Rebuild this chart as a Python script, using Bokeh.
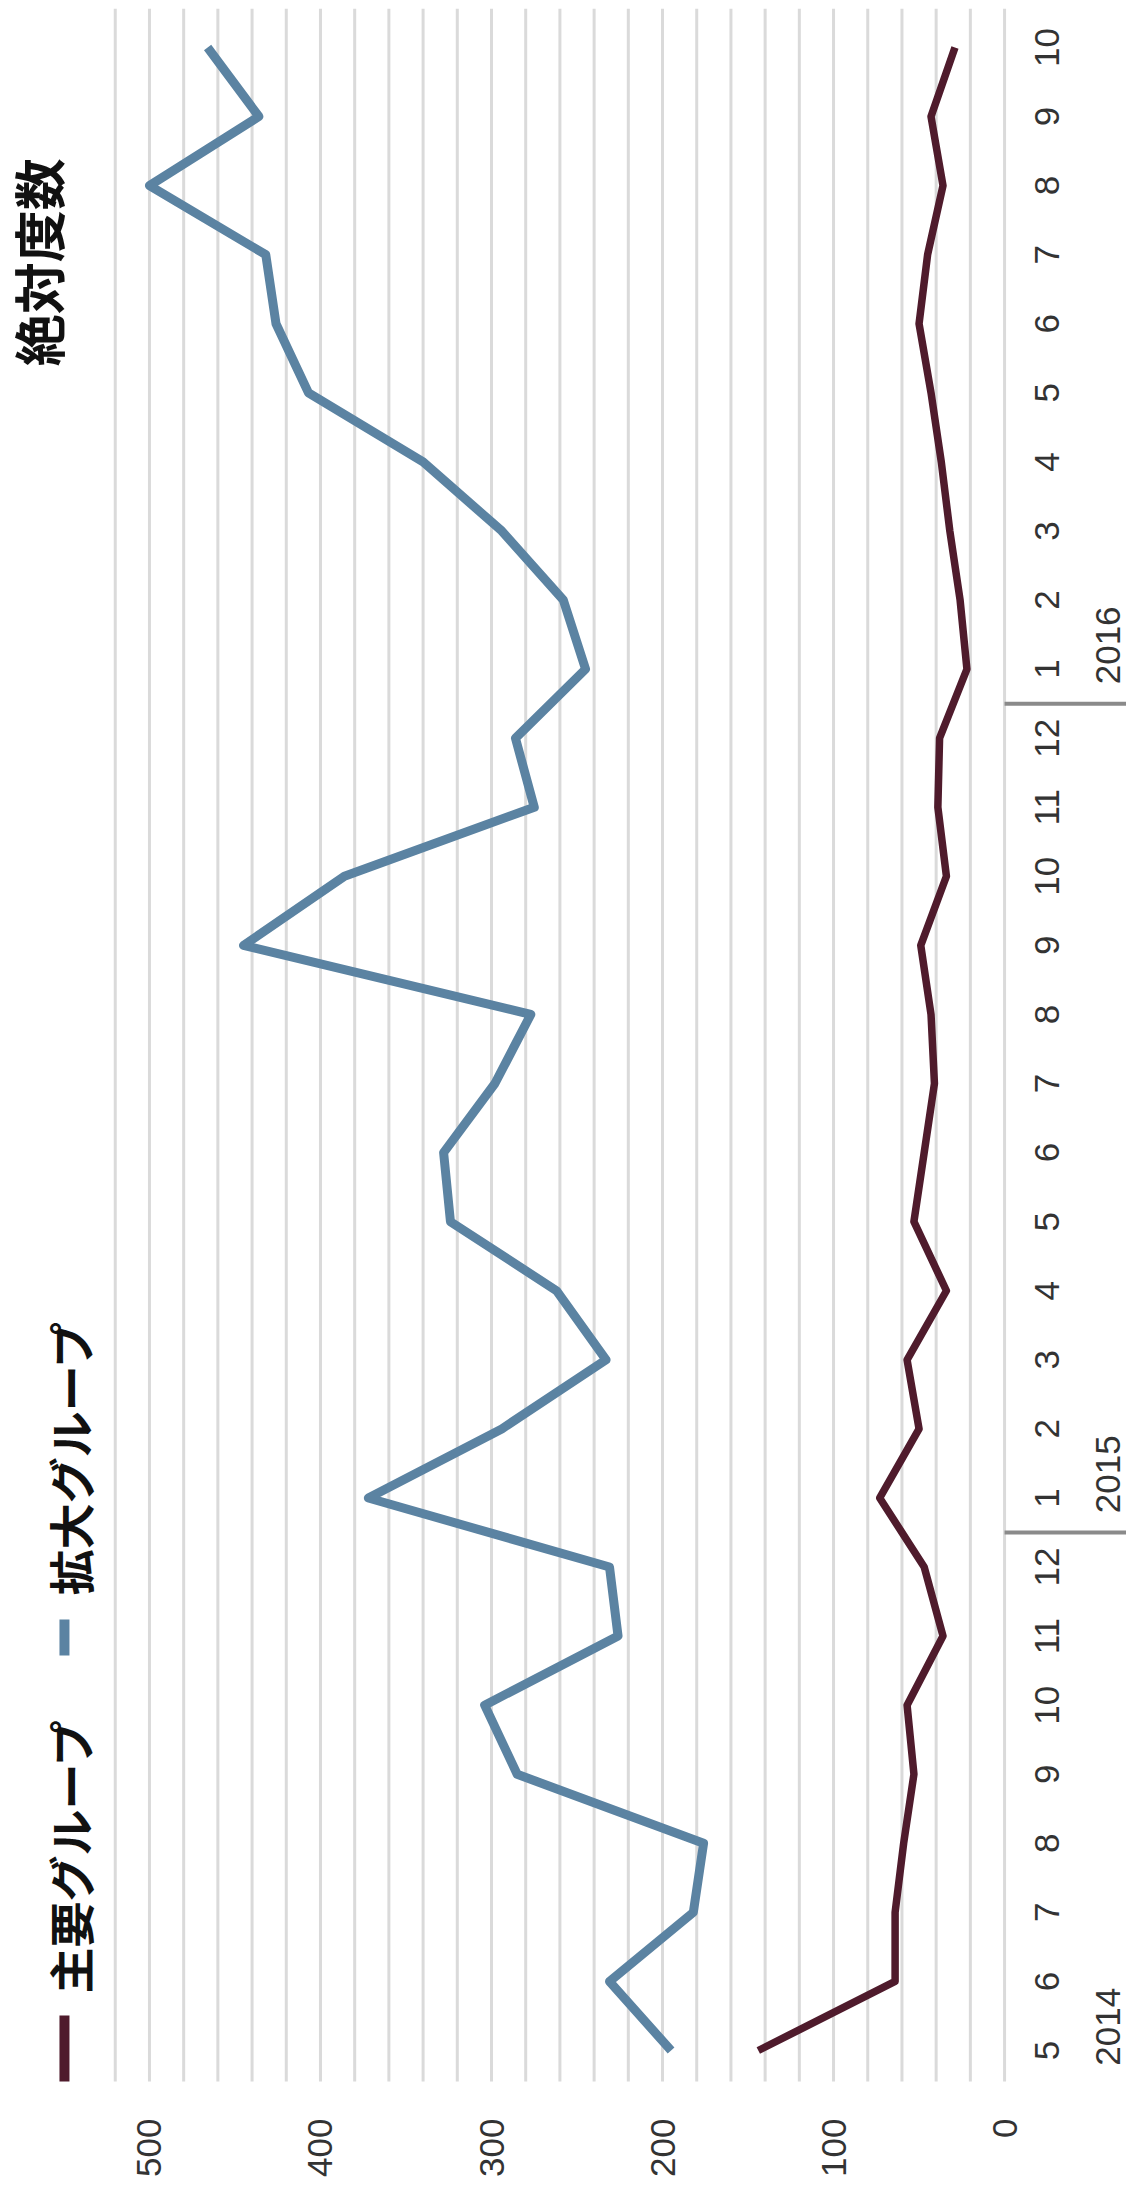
from bokeh.plotting import figure
from bokeh.models import Range1d
from bokeh.core.properties import value
from bokeh.embed import file_html
from bokeh.resources import INLINE
import math

# ---- data ----
month_labels = ["5", "6", "7", "8", "9", "10", "11", "12",
                "1", "2", "3", "4", "5", "6", "7", "8", "9", "10", "11", "12",
                "1", "2", "3", "4", "5", "6", "7", "8", "9", "10"]
year_labels = ["2014", "2015", "2016"]
year_start_index = [0, 8, 20]
series_names = ["主要グループ", "拡大グループ"]
main_group = [144, 64, 64, 59, 53, 57, 36, 47, 73, 50, 57, 34, 53, 47, 41, 43,
              49, 34, 39, 38, 22, 26, 32, 37, 43, 50, 45, 36, 43, 29]
extended_group = [195, 231, 182, 176, 285, 304, 226, 231, 372, 294, 233, 262,
                  324, 328, 298, 277, 445, 386, 275, 286, 245, 258, 294, 340,
                  407, 426, 432, 500, 436, 466]
value_ticks = [0, 100, 200, 300, 400, 500]
grid_values = list(range(0, 521, 20))
title_text = "絶対度数"

# ---- styling ----
RED = "#4f1b2c"
BLUE = "#5b83a2"
GRID = "#dadada"
TXT = "#333333"
NUM_FONT = value("Liberation Sans")
JP_FONT = value("Noto Sans CJK JP")
UP = math.pi / 2

W, H = 1126, 2195
idx = list(range(len(month_labels)))

p = figure(width=W, height=H, output_backend="svg", toolbar_location=None,
           x_range=Range1d(587.1, -71.3), y_range=Range1d(-2.099, 29.68),
           min_border=0, background_fill_color="white",
           border_fill_color="white")
p.axis.visible = False
p.grid.visible = False
p.outline_line_color = None

# value gridlines (vertical in this rotated layout)
g_top, g_bot = 29.56, -0.45
p.segment(x0=grid_values, x1=grid_values, y0=[g_bot] * len(grid_values),
          y1=[g_top] * len(grid_values), line_color=GRID, line_width=3)

# series lines
p.line(x=extended_group, y=idx, line_color=BLUE, line_width=9, line_join="round")
p.line(x=main_group, y=idx, line_color=RED, line_width=7.5, line_join="round")

# value axis labels (bottom, reading upward)
p.text(x=value_ticks, y=[-0.985] * len(value_ticks),
       text=[str(v) for v in value_ticks], angle=UP, text_align="right",
       text_baseline="middle", text_font=NUM_FONT, text_font_size="35px",
       text_color=TXT)

# month labels (right side)
p.text(x=[-25.1] * len(idx), y=idx, text=month_labels, angle=UP,
       text_align="center", text_baseline="middle", text_font=NUM_FONT,
       text_font_size="35px", text_color=TXT)

# year labels
p.text(x=[-60.2] * len(year_labels), y=[i - 0.22 for i in year_start_index],
       text=year_labels, angle=UP, text_align="left", text_baseline="middle",
       text_font=NUM_FONT, text_font_size="35px", text_color=TXT)

# year separators
sep_y = [i - 0.5 for i in year_start_index[1:]]
p.segment(x0=[0] * len(sep_y), x1=[-72] * len(sep_y), y0=sep_y, y1=sep_y,
          line_color="#8a8a8a", line_width=4)

# legend
p.segment(x0=[549.7], x1=[549.7], y0=[-0.449], y1=[0.507],
          line_color=RED, line_width=10)
p.segment(x0=[549.7], x1=[549.7], y0=[5.72], y1=[6.24],
          line_color=BLUE, line_width=10)
p.text(x=[547, 547], y=[0.825, 6.59], text=series_names, angle=UP,
       text_align="left", text_baseline="middle", text_font=JP_FONT,
       text_font_size="46px", text_font_style="bold", text_color="#111111")

# title
p.text(x=[565.5], y=[25.89], text=[title_text], angle=UP, text_align="center",
       text_baseline="middle", text_font=JP_FONT, text_font_size="52px",
       text_font_style="bold", text_color="#111111")

open("out.html", "w").write(file_html(p, INLINE))
